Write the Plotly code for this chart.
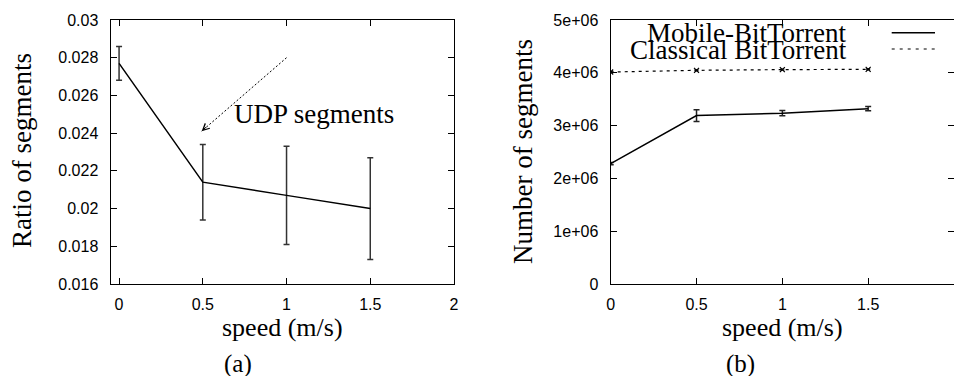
import plotly.graph_objects as go

# ---- data ----
speed = [0, 0.5, 1, 1.5]
udp_ratio = [0.0277, 0.0214, 0.0207, 0.0200]
udp_err = [0.0009, 0.0020, 0.0026, 0.0027]

mobile_bt = [2.28e6, 3.19e6, 3.235e6, 3.32e6]
mobile_err = [0.02e6, 0.11e6, 0.05e6, 0.04e6]
classical_bt = [4.015e6, 4.047e6, 4.06e6, 4.066e6]
classical_err = [0.012e6, 0.012e6, 0.012e6, 0.012e6]

x_ticks = [0, 0.5, 1, 1.5, 2]
x_ticktext = ["0", "0.5", "1", "1.5", "2"]
left_yticks = [0.016, 0.018, 0.02, 0.022, 0.024, 0.026, 0.028, 0.03]
left_yticktext = ["0.016", "0.018", "0.02", "0.022", "0.024", "0.026", "0.028", "0.03"]
right_yticks = [0, 1e6, 2e6, 3e6, 4e6, 5e6]
right_yticktext = ["0", "1e+06", "2e+06", "3e+06", "4e+06", "5e+06"]

W, H = 954, 376
SERIF = "Liberation Serif, Times New Roman, serif"
SANS = "Liberation Sans, Arial, sans-serif"


def px(x):
    return x / W


def py(y):
    return 1 - y / H


fig = go.Figure()

# (a) UDP ratio
fig.add_trace(go.Scatter(
    x=speed, y=udp_ratio, mode="lines", xaxis="x", yaxis="y",
    line=dict(color="black", width=1.5),
    error_y=dict(type="data", array=udp_err, color="#333333", thickness=1.5, width=3),
    showlegend=False))

# (b) segments
fig.add_trace(go.Scatter(
    x=speed, y=mobile_bt, mode="lines", xaxis="x2", yaxis="y2",
    line=dict(color="black", width=1.5),
    error_y=dict(type="data", array=mobile_err, color="#222222", thickness=1.5, width=3),
    showlegend=False))
fig.add_trace(go.Scatter(
    x=speed, y=classical_bt, mode="lines+markers", xaxis="x2", yaxis="y2",
    line=dict(color="black", width=1.2, dash="3px,4px"),
    marker=dict(symbol="x-thin", size=5, line=dict(color="black", width=1.2)),
    error_y=dict(type="data", array=classical_err, color="#222222", thickness=1.2, width=2),
    showlegend=False))

# dashed arrow for UDP segments annotation
arrow_x = [1.0, 0.493]
arrow_y = [0.0280, 0.0241]
fig.add_trace(go.Scatter(
    x=arrow_x, y=arrow_y, mode="lines", xaxis="x", yaxis="y",
    line=dict(color="black", width=1, dash="2px,2px"), showlegend=False, hoverinfo="skip"))

axis_common = dict(
    showgrid=False, zeroline=False, showline=True, linecolor="black", linewidth=1.2,
    mirror="ticks", ticks="inside", ticklen=6, tickcolor="black", tickwidth=1,
    tickfont=dict(family=SANS, size=16, color="black"), automargin=False,
)

fig.update_layout(
    width=W, height=H, autosize=False,
    margin=dict(l=0, r=0, t=0, b=0, pad=0, autoexpand=False),
    paper_bgcolor="white", plot_bgcolor="white",
    xaxis=dict(domain=[px(110.7), px(454)], range=[-0.05, 2], tickvals=x_ticks,
               ticktext=x_ticktext, anchor="y", ticklabelstandoff=6, **axis_common),
    yaxis=dict(domain=[py(284), py(20)], range=[0.016, 0.03], tickvals=left_yticks,
               ticktext=left_yticktext, anchor="x", ticklabelstandoff=8, **axis_common),
    xaxis2=dict(domain=[px(610.7), 1.0], range=[0, 2], tickvals=x_ticks,
                ticktext=x_ticktext, anchor="y2", ticklabelstandoff=6, **axis_common),
    yaxis2=dict(domain=[py(284), py(20)], range=[0, 5e6], tickvals=right_yticks,
                ticktext=right_yticktext, anchor="x2", ticklabelstandoff=8, **axis_common),
)

ann = []


def text(x, y, s, size=27, angle=0, xanchor="center"):
    ann.append(dict(x=px(x), y=py(y), xref="paper", yref="paper", text=s, showarrow=False,
                    font=dict(family=SERIF, size=size, color="black"), textangle=angle,
                    xanchor=xanchor, yanchor="middle"))


text(22, 151, "Ratio of segments", angle=-90)
text(282.5, 327, "speed (m/s)", size=26)
text(238, 364, "(a)", size=25)
text(523, 152, "Number of segments", angle=-90)
text(782.5, 327, "speed (m/s)", size=26)
text(740, 364, "(b)", size=25)
text(313.5, 114, "UDP segments", size=27)
text(849, 33, "Mobile-BitTorrent", xanchor="right")
text(849, 50, "Classical BitTorrent", xanchor="right")

# arrowhead at end of dashed arrow
ann.append(dict(x=arrow_x[1], y=arrow_y[1], xref="x", yref="y", ax=6, ay=-5.5,
                axref="pixel", ayref="pixel", text="", showarrow=True,
                arrowhead=5, arrowsize=1.3, arrowwidth=1, arrowcolor="black"))

fig.update_layout(annotations=ann)

# legend samples
fig.add_shape(type="line", xref="paper", yref="paper", x0=px(891.7), x1=px(935),
              y0=py(32.7), y1=py(32.7), line=dict(color="black", width=1.5))
fig.add_shape(type="line", xref="paper", yref="paper", x0=px(891.7), x1=px(935),
              y0=py(49), y1=py(49), line=dict(color="black", width=1.2, dash="3px,5px"))

fig.write_html(
    "out.html",
    config={"displayModeBar": False, "staticPlot": True},
    post_script="document.body.style.margin='0';document.body.style.overflow='hidden';",
)
